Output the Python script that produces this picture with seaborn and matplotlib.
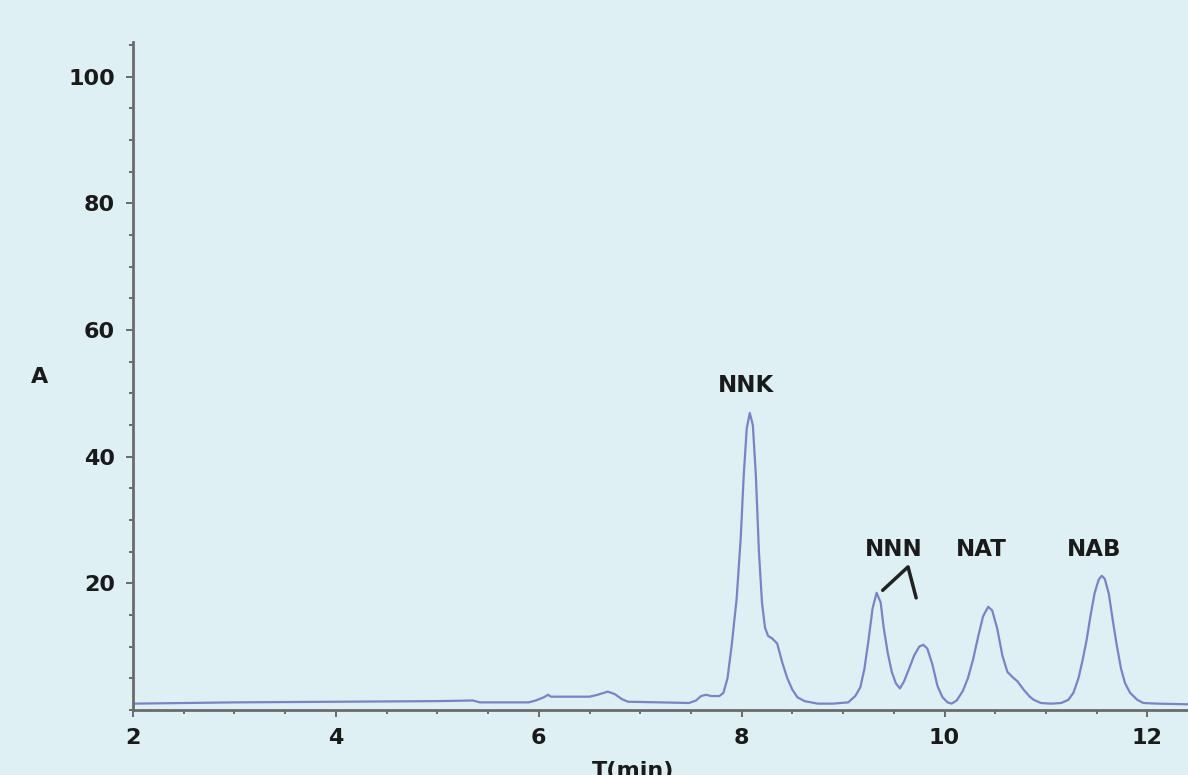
import matplotlib
matplotlib.use("Agg")
import matplotlib.pyplot as plt
import seaborn as sns
import pandas as pd
from matplotlib.ticker import MultipleLocator

# retention time (min) and absorbance
t_min = [2.0, 3.0, 4.0, 5.0, 5.35, 5.42, 5.9, 5.97, 6.05, 6.09, 6.12, 6.5, 6.58, 6.68,
         6.75, 6.82, 6.88, 7.2, 7.48, 7.55, 7.6, 7.65, 7.7, 7.78,
         7.82, 7.86, 7.9, 7.95, 7.99, 8.02, 8.05, 8.08, 8.11, 8.14, 8.17, 8.2, 8.23,
         8.26, 8.3, 8.35, 8.4, 8.45, 8.5, 8.55, 8.62, 8.75,
         8.9, 9.05, 9.12, 9.17, 9.21, 9.25, 9.29, 9.33, 9.37, 9.4, 9.44, 9.48, 9.52,
         9.56, 9.6, 9.65, 9.7, 9.75, 9.79, 9.83, 9.88, 9.93, 9.98, 10.03, 10.07,
         10.12, 10.18, 10.23, 10.28, 10.33, 10.38, 10.43, 10.47, 10.52, 10.57, 10.62,
         10.67, 10.72, 10.78, 10.84, 10.88, 10.95, 11.05,
         11.15, 11.22, 11.27, 11.32, 11.36, 11.4, 11.44, 11.48, 11.52, 11.55, 11.58,
         11.62, 11.66, 11.7, 11.74, 11.78, 11.83, 11.9, 11.96, 12.1, 12.4]
absorb = [1.0, 1.2, 1.3, 1.4, 1.5, 1.2, 1.2, 1.5, 2.0, 2.4, 2.1, 2.1, 2.4, 2.9,
          2.5, 1.7, 1.3, 1.2, 1.1, 1.5, 2.2, 2.4, 2.2, 2.2,
          2.7, 5.0, 10.0, 17.5, 27.0, 37.0, 44.5, 46.9, 45.0, 37.0, 25.0, 17.0, 13.0,
          11.7, 11.3, 10.5, 7.5, 5.0, 3.2, 2.0, 1.4, 1.0,
          1.0, 1.2, 2.2, 3.6, 6.5, 11.0, 16.0, 18.5, 17.0, 13.0, 9.0, 6.0, 4.2,
          3.4, 4.5, 6.5, 8.6, 10.0, 10.3, 9.7, 7.2, 3.8, 2.0, 1.2, 1.0,
          1.5, 3.0, 5.0, 7.9, 11.5, 14.8, 16.3, 15.7, 12.8, 8.6, 6.0,
          5.2, 4.5, 3.2, 2.1, 1.6, 1.1, 1.0,
          1.1, 1.6, 2.7, 5.0, 7.8, 11.0, 15.0, 18.5, 20.6, 21.2, 20.7,
          18.3, 14.0, 10.0, 6.5, 4.2, 2.7, 1.6, 1.1, 1.0, 0.9]

peak_names = ["NNK", "NNN", "NAT", "NAB"]
label_x = [8.04, 9.50, 10.36, 11.47]
label_y = [51.3, 25.3, 25.3, 25.3]

df = pd.DataFrame({"T": t_min, "A": absorb})

sns.set_theme(style="ticks")
plt.rcParams["font.family"] = ["DejaVu Sans"]

bg = "#def0f3"
fig = plt.figure(figsize=(11.88, 7.75), dpi=100, facecolor=bg)
ax = fig.add_axes([0.112, 0.0839, 0.888, 0.862])
ax.set_facecolor("none")

sns.lineplot(data=df, x="T", y="A", ax=ax, color="#7b82c9", linewidth=1.6)

# NNN pointer lines
ax.plot([9.39, 9.64, 9.72], [18.9, 22.6, 17.7], color="#222222", linewidth=2.5,
        solid_capstyle="round")

for name, x, y in zip(peak_names, label_x, label_y):
    ax.text(x, y, name, ha="center", va="center", fontsize=16.5, fontweight="bold",
            color="#1a1a1a")

ax.set_xlim(2, 12.4)
ax.set_ylim(0, 105.5)
ax.xaxis.set_major_locator(MultipleLocator(2))
ax.xaxis.set_minor_locator(MultipleLocator(0.5))
ax.set_yticks([20, 40, 60, 80, 100])
ax.yaxis.set_minor_locator(MultipleLocator(5))

for s in ["top", "right"]:
    ax.spines[s].set_visible(False)
for s in ["left", "bottom"]:
    ax.spines[s].set_color("#6b6b6b")
    ax.spines[s].set_linewidth(2)

ax.tick_params(which="major", length=5, width=1.2, color="#555555",
               labelsize=16, labelcolor="#1a1a1a", pad=8)
ax.tick_params(which="minor", length=3, width=1.2, color="#555555")
for lab in ax.get_xticklabels() + ax.get_yticklabels():
    lab.set_fontweight("bold")

ax.set_xlabel("")
ax.set_ylabel("")
fig.text(40 / 1188, 1 - 377 / 775, "A", ha="center", va="center", fontsize=16,
         fontweight="bold", color="#1a1a1a")
fig.text(633 / 1188, 1 - 771 / 775, "T(min)", ha="center", va="center", fontsize=16,
         fontweight="bold", color="#1a1a1a")

fig.savefig("out.png", dpi=100, facecolor=bg)
